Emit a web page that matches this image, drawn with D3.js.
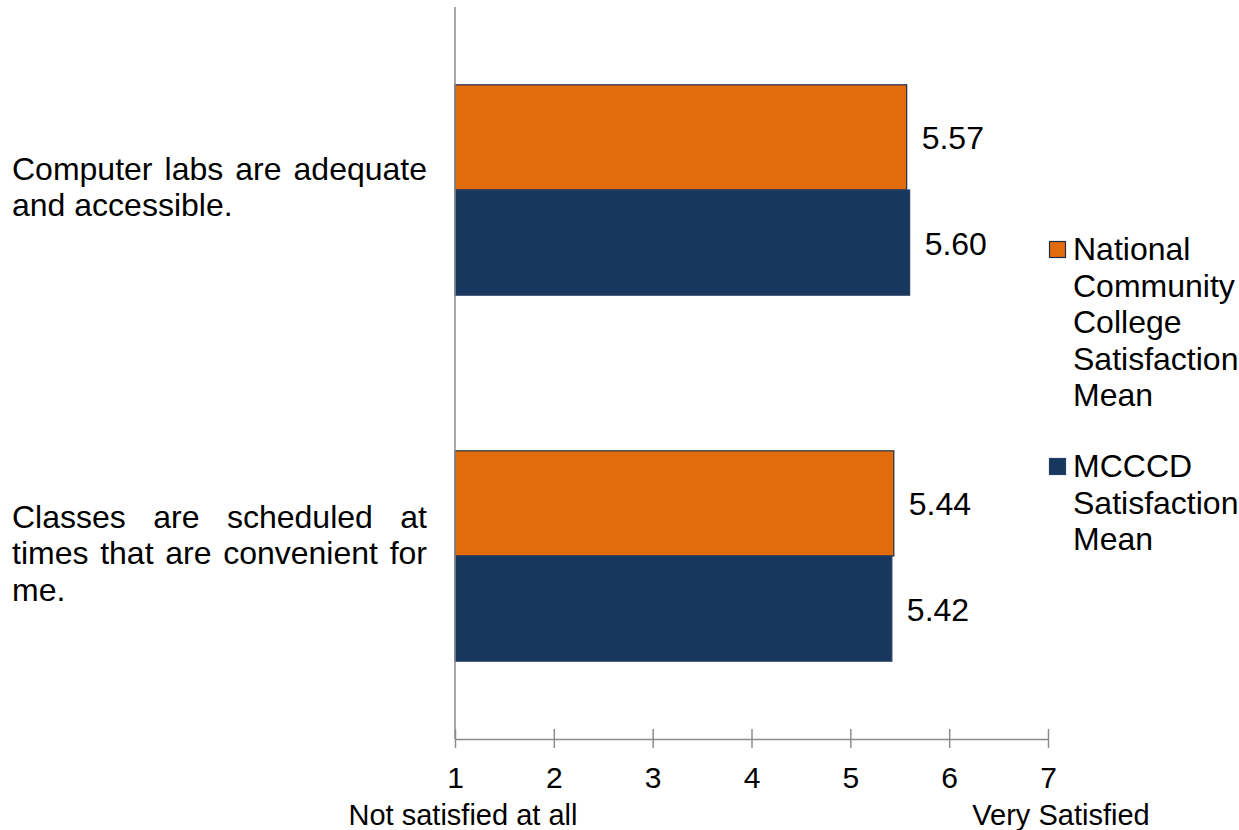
<!DOCTYPE html>
<html>
<head>
<meta charset="utf-8">
<script src="https://cdn.jsdelivr.net/npm/d3@7"></script>
<style>
  html, body { margin: 0; padding: 0; background: #ffffff; }
  svg { display: block; font-family: "Liberation Sans", Arial, sans-serif; }
</style>
</head>
<body>
<svg id="chart" width="1239" height="830"></svg>
<script>
// Survey items and satisfaction means
const categories = [
  "Computer labs are adequate and accessible.",
  "Classes are scheduled at times that are convenient for me."
];
const seriesNames = [
  "National Community College Satisfaction Mean",
  "MCCCD Satisfaction Mean"
];
const nationalMeans = [5.57, 5.44];
const mcccdMeans = [5.60, 5.42];
const tickValues = [1, 2, 3, 4, 5, 6, 7];
const scaleEndLabels = ["Not satisfied at all", "Very Satisfied"];

const colors = ["#E36C0A", "#17375E"];
const strokes = ["#1F2D46", "#243F63"];
const series = [nationalMeans, mcccdMeans];

const svg = d3.select("#chart");
const plot = { left: 455, right: 1048, top: 7, bottom: 739 };

const x = d3.scaleLinear().domain([1, 7]).range([plot.left, plot.right]);
const y = d3.scaleBand().domain(categories).range([plot.top, plot.bottom]).paddingInner(0).paddingOuter(0);
const inner = d3.scaleBand().domain(d3.range(series.length)).range([0, y.bandwidth()]).paddingInner(0).paddingOuter(0.74);

// Bars with value labels
categories.forEach((cat, ci) => {
  series.forEach((vals, si) => {
    svg.append("rect")
      .attr("x", x(1))
      .attr("y", y(cat) + inner(si))
      .attr("width", x(vals[ci]) - x(1))
      .attr("height", inner.bandwidth())
      .attr("fill", colors[si])
      .attr("stroke", strokes[si])
      .attr("stroke-width", 1.2);
    svg.append("text")
      .attr("x", x(vals[ci]) + 15)
      .attr("y", y(cat) + inner(si) + inner.bandwidth() / 2 + 12)
      .attr("font-size", 32)
      .attr("fill", "#000")
      .text(vals[ci].toFixed(2));
  });
});

// Vertical axis line
svg.append("line")
  .attr("x1", plot.left).attr("x2", plot.left)
  .attr("y1", plot.top).attr("y2", plot.bottom)
  .attr("stroke", "#8c8c8c").attr("stroke-width", 1.5);

// Bottom axis
const xAxis = d3.axisBottom(x).tickValues(tickValues).tickSize(0).tickPadding(0).tickFormat(d3.format("d"));
const gx = svg.append("g").attr("transform", `translate(0,${plot.bottom})`).call(xAxis);
gx.select(".domain").attr("stroke", "#8c8c8c").attr("stroke-width", 1.5);
gx.selectAll(".tick text").remove();
gx.selectAll(".tick").append("line")
  .attr("y1", -10).attr("y2", 9)
  .attr("stroke", "#8c8c8c").attr("stroke-width", 1.5);
gx.selectAll(".tick").append("text")
  .attr("y", 49)
  .attr("text-anchor", "middle")
  .attr("font-size", 30)
  .attr("font-family", "Liberation Sans, Arial, sans-serif")
  .attr("fill", "#000")
  .text(d => d);

svg.append("text")
  .attr("x", x(1) + 8).attr("y", 825)
  .attr("text-anchor", "middle").attr("font-size", 29).attr("fill", "#000")
  .text(scaleEndLabels[0]);
svg.append("text")
  .attr("x", x(7) + 13).attr("y", 825)
  .attr("text-anchor", "middle").attr("font-size", 29).attr("fill", "#000")
  .text(scaleEndLabels[1]);

// Category labels, justified within a fixed column
const labelLeft = 12, labelRight = 427, labelSize = 32, lineH = 36.5;
const measurer = svg.append("text").attr("font-size", labelSize).attr("visibility", "hidden");
function textWidth(s) { measurer.text(s); return measurer.node().getComputedTextLength(); }
const spaceW = textWidth("a a") - textWidth("aa");
const colW = labelRight - labelLeft;

categories.forEach(cat => {
  const words = cat.split(" ");
  const lines = [];
  let cur = [];
  words.forEach(w => {
    const trial = cur.concat([w]).join(" ");
    if (cur.length && textWidth(trial) > colW) { lines.push(cur); cur = [w]; }
    else cur.push(w);
  });
  if (cur.length) lines.push(cur);
  const cy = y(cat) + y.bandwidth() / 2;
  const firstBase = cy - (lines.length - 1) / 2 * lineH + 8;
  lines.forEach((ws, li) => {
    const base = firstBase + li * lineH;
    const last = li === lines.length - 1;
    const widths = ws.map(textWidth);
    const gap = (!last && ws.length > 1)
      ? (colW - d3.sum(widths)) / (ws.length - 1)
      : spaceW;
    let xx = labelLeft;
    ws.forEach((w, wi) => {
      svg.append("text")
        .attr("x", xx).attr("y", base)
        .attr("font-size", labelSize).attr("fill", "#000")
        .text(w);
      xx += widths[wi] + gap;
    });
  });
});
measurer.remove();

// Legend
const legendLines = [
  ["National", "Community", "College", "Satisfaction", "Mean"],
  ["MCCCD", "Satisfaction", "Mean"]
];
const legendStarts = [260, 477];
legendLines.forEach((ls, i) => {
  svg.append("rect")
    .attr("x", 1049.5).attr("y", legendStarts[i] - 18.5)
    .attr("width", 16).attr("height", 16)
    .attr("fill", colors[i]).attr("stroke", strokes[i]).attr("stroke-width", 1.2);
  ls.forEach((t, li) => {
    svg.append("text")
      .attr("x", 1073).attr("y", legendStarts[i] + li * 36.5)
      .attr("font-size", 32).attr("fill", "#000")
      .text(t);
  });
});
</script>
</body>
</html>
